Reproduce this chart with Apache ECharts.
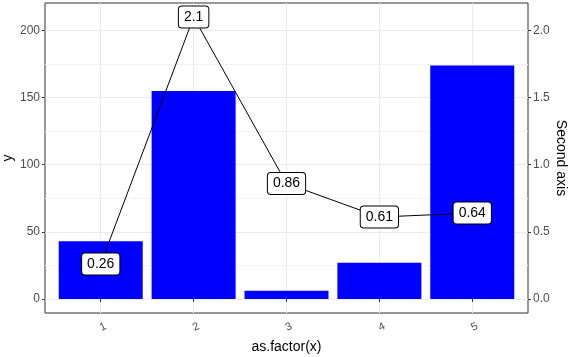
<!DOCTYPE html>
<html>
<head>
<meta charset="utf-8">
<script src="https://cdn.jsdelivr.net/npm/echarts@6/dist/echarts.min.js"></script>
<style>html,body{margin:0;padding:0;background:#fff}#c{width:571px;height:357px}</style>
</head>
<body>
<div id="c"></div>
<script>
var categories = ['1', '2', '3', '4', '5'];
var barValues = [43, 155, 6, 27, 174];
var lineValues = [0.26, 2.1, 0.86, 0.61, 0.64];
var leftTicks = [0, 50, 100, 150, 200];
var leftMinor = [25, 75, 125, 175];
var rightTicks = [0, 0.5, 1.0, 1.5, 2.0];
var xPositions = categories.map(function (c, i) { return i + 1; });

var FONT = '"Liberation Sans", Arial, sans-serif';
var chart = echarts.init(document.getElementById('c'));
chart.setOption({
  animation: false,
  backgroundColor: '#ffffff',
  grid: { left: 45, top: 3, width: 483, height: 310, outerBoundsMode: 'none', containLabel: false,
    show: true, borderColor: '#333333', borderWidth: 1, backgroundColor: '#ffffff' },
  xAxis: {
    type: 'value', min: 0.4, max: 5.6,
    name: 'as.factor(x)', nameLocation: 'middle', nameGap: 27, nameMoveOverlap: false,
    nameTextStyle: { color: '#000', fontSize: 14, fontFamily: FONT },
    axisLine: { show: false },
    axisTick: { show: true, length: 3, lineStyle: { color: '#333333' }, customValues: xPositions },
    axisLabel: { color: '#4d4d4d', fontSize: 11, fontFamily: FONT, rotate: 25, margin: 9,
      align: 'center', verticalAlign: 'top',
      customValues: xPositions,
      formatter: function (v) { return categories[Math.round(v) - 1]; } },
    splitLine: { show: true, lineStyle: { color: '#ebebeb', width: 1 } }
  },
  yAxis: [{
    type: 'value', min: -10.5, max: 220.5, position: 'left',
    name: 'y', nameLocation: 'middle', nameGap: 30, nameRotate: 90, nameMoveOverlap: false,
    nameTextStyle: { color: '#000', fontSize: 14, fontFamily: FONT },
    axisLine: { show: false },
    axisTick: { show: true, length: 3, lineStyle: { color: '#333333' }, customValues: leftTicks },
    axisLabel: { color: '#4d4d4d', fontSize: 12, fontFamily: FONT, margin: 5, customValues: leftTicks },
    splitLine: { show: true, lineStyle: { color: '#ebebeb', width: 1 } }
  }, {
    type: 'value', min: -0.105, max: 2.205, position: 'right',
    name: 'Second axis', nameLocation: 'middle', nameGap: 26, nameRotate: -90, nameMoveOverlap: false,
    nameTextStyle: { color: '#000', fontSize: 14, fontFamily: FONT },
    axisLine: { show: false },
    axisTick: { show: true, length: 3, lineStyle: { color: '#333333' }, customValues: rightTicks },
    axisLabel: { color: '#4d4d4d', fontSize: 12, fontFamily: FONT, margin: 5, customValues: rightTicks,
      formatter: function (v) { return v.toFixed(1); } },
    splitLine: { show: false }
  }, {
    type: 'value', min: -10.5, max: 220.5, position: 'left', show: true,
    axisLine: { show: false }, axisLabel: { show: false },
    axisTick: { show: false, customValues: leftMinor },
    splitLine: { show: true, lineStyle: { color: '#f3f3f3', width: 1 } }
  }],
  series: [{
    type: 'bar', yAxisIndex: 0, barWidth: 84,
    itemStyle: { color: '#0000ff' },
    data: xPositions.map(function (x, i) { return [x, barValues[i]]; }),
    z: 2
  }, {
    type: 'line', yAxisIndex: 1,
    symbol: 'circle', symbolSize: 1,
    itemStyle: { color: 'rgba(0,0,0,0)' },
    lineStyle: { color: '#000000', width: 1 },
    label: {
      show: true, position: 'inside', color: '#000', fontSize: 14, fontFamily: FONT,
      backgroundColor: '#ffffff', borderColor: '#000000', borderWidth: 1, borderRadius: 3,
      padding: [3, 5, 3, 5], lineHeight: 15,
      formatter: function (p) { return String(p.value[1]); }
    },
    data: xPositions.map(function (x, i) { return [x, lineValues[i]]; }),
    z: 3
  }]
});
</script>
</body>
</html>
